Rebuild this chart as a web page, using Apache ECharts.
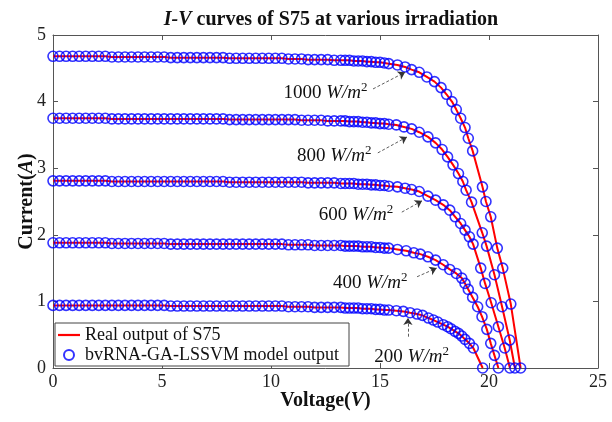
<!DOCTYPE html>
<html>
<head>
<meta charset="utf-8">
<script src="https://cdn.jsdelivr.net/npm/echarts@6/dist/echarts.min.js"></script>
<style>html,body{margin:0;padding:0;background:#fff;}#c{width:612px;height:422px;}</style>
</head>
<body>
<div id="c"></div>
<script>
// ---- data ----
const vGrid = [0,0.3,0.6,0.9,1.2,1.5,1.8,2.1,2.4,2.7,3.0,3.3,3.6,3.9,4.2,4.5,4.8,5.1,5.4,5.7,6.0,6.3,6.6,6.9,7.2,7.5,7.8,8.1,8.4,8.7,9.0,9.3,9.6,9.9,10.2,10.5,10.8,11.1,11.4,11.7,12.0,12.3,12.6,12.9,13.2,13.4,13.6,13.8,14.0,14.2,14.4,14.6,14.8,15.0,15.2,15.4];

const i1000Flat = [4.68,4.68,4.68,4.68,4.68,4.68,4.68,4.68,4.68, 4.67,4.67,4.67,4.67,4.67,4.67,4.67,4.67,4.67, 4.66,4.66,4.66,4.66,4.66,4.66,4.66,4.66,4.66, 4.65,4.65,4.65,4.65,4.65,4.65,4.65,4.65,4.65, 4.64,4.64,4.64,4.63,4.63,4.63,4.63,4.62,4.62, 4.62,4.62,4.61,4.61,4.61,4.60,4.60,4.59,4.59,4.58,4.57];
const i800Flat = [3.75,3.75,3.75,3.75,3.75,3.75,3.75,3.75,3.75, 3.74,3.74,3.74,3.74,3.74,3.74,3.74,3.74,3.74, 3.74,3.74,3.74,3.74,3.74,3.74,3.74,3.74,3.74, 3.73,3.73,3.73,3.73,3.73,3.73,3.73,3.73,3.73, 3.73,3.73,3.72,3.72,3.72,3.72,3.71,3.71,3.71, 3.71,3.70,3.70,3.70,3.69,3.69,3.68,3.68,3.67,3.67,3.66];
const i600Flat = [2.81,2.81,2.81,2.81,2.81,2.81,2.81,2.81,2.81, 2.80,2.80,2.80,2.80,2.80,2.80,2.80,2.80,2.80, 2.80,2.80,2.80,2.80,2.80,2.80,2.80,2.80,2.80, 2.79,2.79,2.79,2.79,2.79,2.79,2.79,2.79,2.79, 2.79,2.79,2.79,2.78,2.78,2.78,2.78,2.78,2.77, 2.77,2.77,2.77,2.76,2.76,2.76,2.75,2.75,2.74,2.74,2.73];
const i400Flat = [1.88,1.88,1.88,1.88,1.88,1.88,1.88,1.88,1.88, 1.87,1.87,1.87,1.87,1.87,1.87,1.87,1.87,1.87, 1.86,1.86,1.86,1.86,1.86,1.86,1.86,1.86,1.86, 1.86,1.86,1.86,1.86,1.86,1.86,1.86,1.86,1.86, 1.85,1.85,1.85,1.85,1.84,1.84,1.84,1.84,1.84, 1.83,1.83,1.83,1.83,1.82,1.82,1.82,1.81,1.81,1.80,1.80];
const i200Flat = [0.94,0.94,0.94,0.94,0.94,0.94,0.94,0.94,0.94, 0.94,0.94,0.94,0.94,0.94,0.94,0.94,0.94,0.94, 0.93,0.93,0.93,0.93,0.93,0.93,0.93,0.93,0.93, 0.93,0.93,0.93,0.93,0.93,0.93,0.93,0.93,0.93, 0.92,0.92,0.92,0.92,0.91,0.91,0.91,0.91,0.91, 0.90,0.90,0.90,0.90,0.89,0.89,0.89,0.88,0.88,0.87,0.87];

const knee1000 = [[15.8,4.55],[16.15,4.52],[16.45,4.48],[16.8,4.44],[17.15,4.37],[17.5,4.30],[17.8,4.21],[18.05,4.11],[18.3,4.00],[18.5,3.88],[18.7,3.75],[18.9,3.61],[19.05,3.45],[19.25,3.26],[19.7,2.72],[19.86,2.50],[20.08,2.27],[20.38,1.80],[20.63,1.50],[21.0,0.96],[21.45,0]];
const knee800 = [[15.75,3.65],[16.1,3.62],[16.45,3.59],[16.8,3.54],[17.2,3.47],[17.55,3.38],[17.85,3.28],[18.1,3.17],[18.35,3.05],[18.6,2.92],[18.8,2.80],[18.95,2.67],[19.2,2.49],[19.69,2.03],[19.89,1.83],[20.25,1.40],[20.6,0.92],[20.95,0.42],[21.19,0]];
const knee600 = [[15.8,2.72],[16.15,2.70],[16.45,2.68],[16.8,2.65],[17.2,2.58],[17.55,2.52],[17.9,2.45],[18.2,2.37],[18.45,2.27],[18.7,2.17],[18.9,2.07],[19.1,1.97],[19.27,1.86],[19.62,1.50],[19.82,1.27],[20.1,0.98],[20.43,0.62],[20.72,0.30],[20.96,0]];
const knee400 = [[15.8,1.78],[16.2,1.76],[16.55,1.73],[16.85,1.71],[17.2,1.67],[17.55,1.62],[17.9,1.55],[18.2,1.48],[18.5,1.42],[18.75,1.35],[18.9,1.27],[19.05,1.18],[19.25,1.06],[19.48,0.92],[19.68,0.77],[19.9,0.58],[20.08,0.37],[20.25,0.19],[20.43,0]];
const knee200 = [[15.75,0.86],[16.07,0.85],[16.38,0.83],[16.7,0.81],[16.95,0.79],[17.22,0.75],[17.45,0.72],[17.65,0.69],[17.9,0.65],[18.1,0.62],[18.25,0.59],[18.44,0.55],[18.6,0.52],[18.75,0.48],[18.9,0.43],[19.1,0.37],[19.28,0.30],[19.71,0]];

const irradiationLabels = ['1000','800','600','400','200'];
const xTicks = [0,5,10,15,20,25];
const yTicks = [0,1,2,3,4,5];

const curves = [
  [i1000Flat, knee1000],
  [i800Flat, knee800],
  [i600Flat, knee600],
  [i400Flat, knee400],
  [i200Flat, knee200]
];

// ---- chart ----
const FONT = '"Liberation Serif","Times New Roman",serif';
const LINE_NAME = 'Real output of S75';
const SCAT_NAME = 'bvRNA-GA-LSSVM model output';

// annotation placement (data coords): label centre, arrow start, arrow end
const annot = [
  {t: irradiationLabels[0], at: [12.5, 4.13], a: [[14.68, 4.19], [16.15, 4.44]]},
  {t: irradiationLabels[1], at: [12.9, 3.18], a: [[14.9, 3.23], [16.24, 3.47]]},
  {t: irradiationLabels[2], at: [13.9, 2.30], a: [[16.0, 2.34], [16.93, 2.51]]},
  {t: irradiationLabels[3], at: [14.55, 1.28], a: [[16.7, 1.37], [17.6, 1.50]]},
  {t: irradiationLabels[4], at: [16.45, 0.17], a: [[16.28, 0.47], [16.28, 0.75]]}
];

const series = [];
curves.forEach(([flat, knee]) => {
  const data = vGrid.map((v, i) => [v, flat[i]]).concat(knee);
  series.push({
    name: LINE_NAME, type: 'line', data: data, symbol: 'none', showSymbol: false, z: 2,
    lineStyle: {color: '#ff0000', width: 2}, itemStyle: {color: '#ff0000'}, animation: false
  });
});
curves.forEach(([flat, knee]) => {
  const data = vGrid.map((v, i) => [v, flat[i]]).concat(knee);
  series.push({
    name: SCAT_NAME, type: 'scatter', data: data, symbol: 'circle', symbolSize: 10, z: 3,
    itemStyle: {color: 'rgba(0,0,0,0)', borderColor: '#0000ff', borderWidth: 1.6}, animation: false
  });
});
series.push({
  type: 'line', data: [], z: 4, animation: false,
  markLine: {
    silent: true, symbol: ['none', 'arrow'], symbolSize: 7,
    lineStyle: {color: '#333', width: 0.8, type: [3, 2]},
    label: {show: false},
    data: annot.map(o => [{coord: o.a[0]}, {coord: o.a[1]}])
  },
  markPoint: {
    silent: true, symbol: 'rect', symbolSize: 1, itemStyle: {color: 'rgba(0,0,0,0)'},
    label: {
      show: true, position: 'inside', color: '#111', fontFamily: FONT, fontSize: 19,
      rich: {
        n: {fontFamily: FONT, fontSize: 19, color: '#111'},
        i: {fontFamily: FONT, fontSize: 19, fontStyle: 'italic', color: '#111'},
        s: {fontFamily: FONT, fontSize: 13, color: '#111', verticalAlign: 'top', lineHeight: 24}
      }
    },
    data: annot.map(o => ({coord: o.at, label: {formatter: '{n|' + o.t + ' }{i|W/m}{s|2}'}}))
  }
});

const axisCommon = {
  min: 0, splitLine: {show: false},
  axisLine: {show: true, onZero: false, lineStyle: {color: '#555', width: 1}},
  axisTick: {show: true, inside: true, length: 5, lineStyle: {color: '#555'}}
};

const option = {
  backgroundColor: '#fff',
  animation: false,
  title: {
    text: '{i|I-V} curves of S75 at various irradiation',
    left: 326, top: 5, textAlign: 'center',
    textStyle: {
      fontFamily: FONT, fontSize: 20, fontWeight: 'bold', color: '#111',
      rich: {i: {fontFamily: FONT, fontSize: 20, fontWeight: 'bold', fontStyle: 'italic', color: '#111'}}
    }
  },
  grid: {left: 53, right: 14, top: 35, bottom: 54},
  legend: {
    orient: 'vertical', left: 55, top: 323,
    padding: [3, 10, 2, 3], itemGap: 2, itemWidth: 22, itemHeight: 10,
    backgroundColor: '#fff', borderColor: '#444', borderWidth: 1,
    textStyle: {fontFamily: FONT, fontSize: 18, color: '#111'},
    data: [
      {name: LINE_NAME, icon: 'path://M0,0H40V4H0Z', itemStyle: {color: '#ff0000'}},
      {name: SCAT_NAME, icon: 'circle', itemStyle: {color: 'rgba(0,0,0,0)', borderColor: '#0000ff', borderWidth: 2}}
    ],
    z: 10
  },
  xAxis: [
    Object.assign({}, axisCommon, {
      type: 'value', max: 25, interval: 5, position: 'bottom',
      name: '{b|Voltage(}{bi|V}{b|)}', nameLocation: 'middle', nameGap: 23, nameMoveOverlap: false,
      nameTextStyle: {rich: {
        b: {fontFamily: FONT, fontSize: 20, fontWeight: 'bold', color: '#111'},
        bi: {fontFamily: FONT, fontSize: 20, fontWeight: 'bold', fontStyle: 'italic', color: '#111'}
      }},
      axisLabel: {fontFamily: FONT, fontSize: 18, color: '#222', margin: 5,
        customValues: xTicks}
    }),
    Object.assign({}, axisCommon, {
      type: 'value', max: 25, interval: 5, position: 'top', axisLabel: {show: false}
    })
  ],
  yAxis: [
    Object.assign({}, axisCommon, {
      type: 'value', max: 5, interval: 1, position: 'left',
      name: '{b|Current(}{bi|A}{b|)}', nameLocation: 'middle', nameGap: 16, nameMoveOverlap: false,
      nameTextStyle: {rich: {
        b: {fontFamily: FONT, fontSize: 20, fontWeight: 'bold', color: '#111'},
        bi: {fontFamily: FONT, fontSize: 20, fontWeight: 'bold', fontStyle: 'italic', color: '#111'}
      }},
      axisLabel: {fontFamily: FONT, fontSize: 18, color: '#222', margin: 7,
        customValues: yTicks}
    }),
    Object.assign({}, axisCommon, {
      type: 'value', max: 5, interval: 1, position: 'right', axisLabel: {show: false}
    })
  ],
  series: series
};

const chart = echarts.init(document.getElementById('c'), null, {renderer: 'canvas'});
chart.setOption(option);
</script>
</body>
</html>
